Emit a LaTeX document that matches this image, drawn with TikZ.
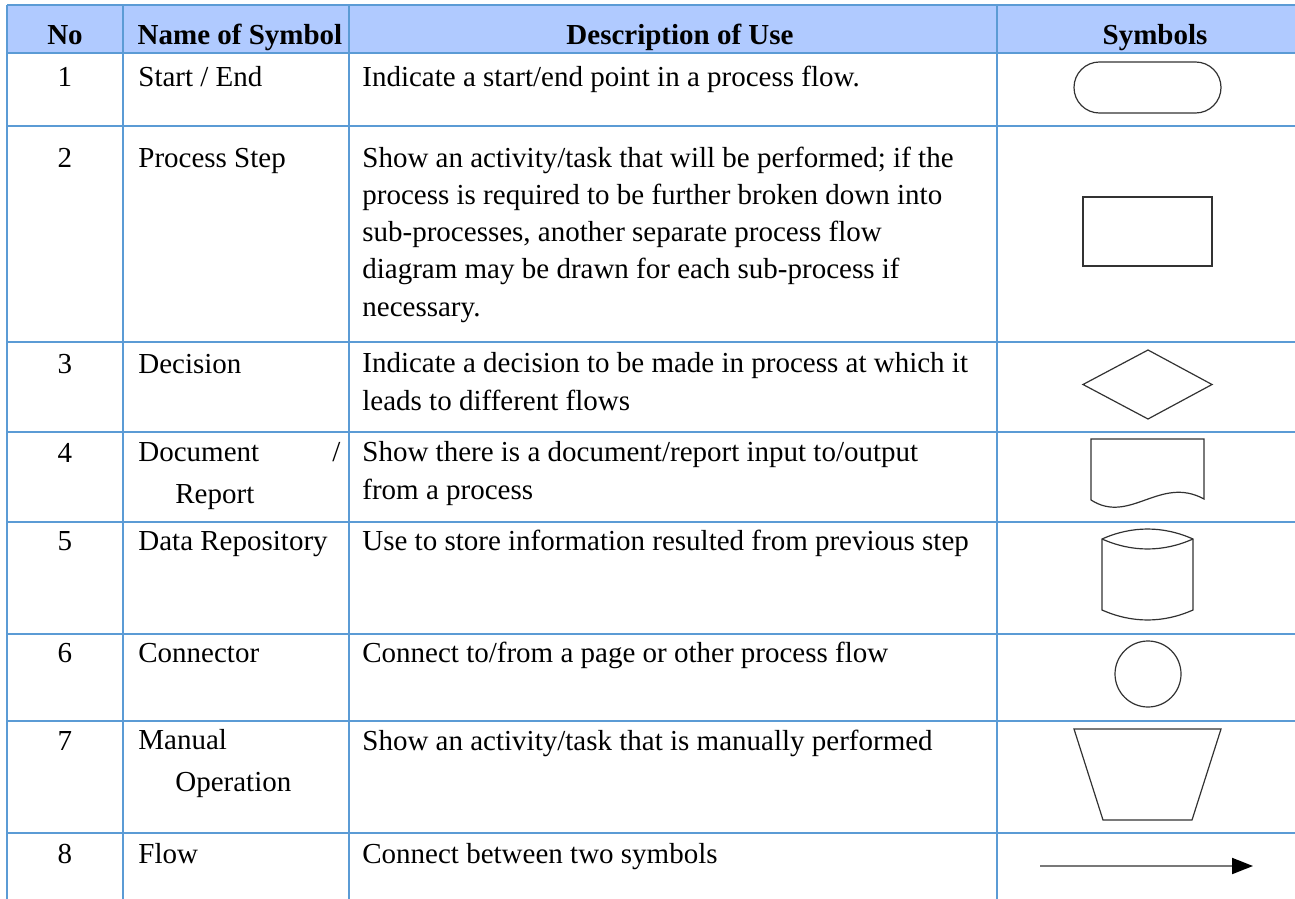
\documentclass[tikz,border=0pt]{standalone}
\usepackage{fontspec}
\setmainfont{Liberation Serif}
\usepackage{tikz}
\usetikzlibrary{arrows.meta}
\definecolor{gridblue}{RGB}{91,155,213}
\definecolor{headblue}{RGB}{176,202,255}
\definecolor{symgray}{RGB}{50,50,50}
\definecolor{flowgray}{RGB}{120,120,120}

\begin{document}
\begin{tikzpicture}[x=0.5pt,y=-0.5pt]
\tikzstyle{every node}+=[inner sep=0pt,font=\fontsize{14.5}{18.6}\selectfont]
\tikzstyle{grid}=[gridblue,line width=1pt]
\tikzstyle{sym}=[symgray,line width=0.6pt]
\tikzstyle{head}=[anchor=base,font=\fontsize{14.5}{18.6}\selectfont\bfseries]
\tikzstyle{num}=[anchor=base]
\tikzstyle{cell}=[anchor=base west,align=left]
\useasboundingbox (0,0) rectangle (1295,899);
% table
\fill [headblue] (7,5) rectangle (1295,53);
\foreach \y in {5,53,126,342,432,522,634,721,833}
  \draw [grid] (7,\y) -- (1295,\y);
\foreach \x in {7,123,349,997}
  \draw [grid] (\x,5) -- (\x,899);
% header
\node [head] (hno) at (65,45) {No};
\node [head] (hname) at (240,45) {Name of Symbol};
\node [head] (hdesc) at (680,45) {Description of Use};
\node [head] (hsym) at (1155,45) {Symbols};
% numbers
\foreach \n/\y in {1/87,2/167,3/373,4/462,5/550,6/662,7/750,8/863}
  \node [num] (no\n) at (65,\y) {\n};
% names (multi-line cells sit on their last baseline)
\node [cell] (name1) at (138,87) {Start / End};
\node [cell] (name2) at (138,167) {Process Step};
\node [cell] (name3) at (138,373) {Decision};
\node [cell] (name4) at (138,503) {\makebox[101pt][l]{Document\hfill/}\\[2pt]\hspace*{18.5pt}Report};
\node [cell] (name5) at (138,550) {Data Repository};
\node [cell] (name6) at (138,662) {Connector};
\node [cell] (name7) at (138,791) {Manual\\[2pt]\hspace*{18.5pt}Operation};
\node [cell] (name8) at (138,863) {Flow};
% descriptions
\node [cell] (desc1) at (362,87) {Indicate a start/end point in a process flow.};
\node [cell] (desc2) at (362,316) {Show an activity/task that will be performed; if the\\
  process is required to be further broken down into\\
  sub-processes, another separate process flow\\
  diagram may be drawn for each sub-process if\\
  necessary.};
\node [cell] (desc3) at (362,410) {Indicate a decision to be made in process at which it\\
  leads to different flows};
\node [cell] (desc4) at (362,499) {Show there is a document/report input to/output\\
  from a process};
\node [cell] (desc5) at (362,550) {Use to store information resulted from previous step};
\node [cell] (desc6) at (362,662) {Connect to/from a page or other process flow};
\node [cell] (desc7) at (362,750) {Show an activity/task that is manually performed};
\node [cell] (desc8) at (362,863) {Connect between two symbols};
% symbols
\draw [sym,rounded corners=12.7pt] (1074,62) rectangle (1221,113);
\draw [sym] (1083,197) rectangle (1212,266);
\draw [sym] (1083,384.5) -- (1148,350) -- (1212,384.5) -- (1148,419) -- cycle;
\draw [sym] (1091,500) -- (1091,439) -- (1204,439) -- (1204,499)
  .. controls (1160,475) and (1130,525) .. (1091,500);
\draw [sym] (1102,539) .. controls (1132,525.7) and (1163,525.7) .. (1193,539)
  -- (1193,610) .. controls (1163,623.3) and (1132,623.3) .. (1102,610) -- cycle;
\draw [sym] (1102,539) .. controls (1132,552.3) and (1163,552.3) .. (1193,539);
\draw [sym] (1148,674) circle [radius=16.5pt];
\draw [sym] (1074,729) -- (1221,729) -- (1192,820) -- (1103,820) -- cycle;
\coordinate (flowa) at (1040,866);
\coordinate (flowb) at (1253,866);
\draw [flowgray,line width=1pt,-{Triangle[length=10.5pt,width=8pt,black]}] (flowa) -- (flowb);
\end{tikzpicture}
\end{document}
